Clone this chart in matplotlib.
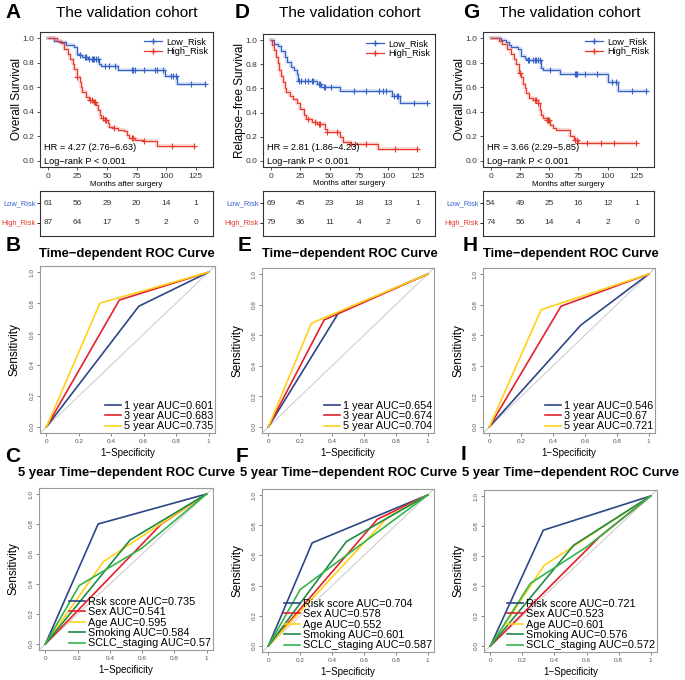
import numpy as np
import matplotlib
matplotlib.use("Agg")
import matplotlib.pyplot as plt
from matplotlib.lines import Line2D

plt.rcParams['font.family'] = ['Liberation Sans', 'DejaVu Sans']
plt.rcParams['axes.unicode_minus'] = True

# ---- Kaplan-Meier data ----
month_ticks = [0, 25, 50, 75, 100, 125]

# A: overall survival
a_low_t = [0, 5, 9, 15, 22, 25, 27, 29, 34, 43, 45, 59, 99, 109]
a_low_s = [1.0, 0.98, 0.965, 0.946, 0.925, 0.87, 0.86, 0.845, 0.83, 0.79, 0.77, 0.737, 0.69, 0.625]
a_low_cens = [27, 31, 32, 35, 37, 38, 39, 41, 42, 48, 52, 57, 71, 72, 74, 81, 91, 92, 97, 104, 106, 108, 121, 133]
a_high_t = [0, 8, 11, 14, 17, 19, 21, 22, 25, 27, 28, 29, 32, 35, 38, 41, 42, 44, 45, 48, 51, 52, 55,
            59, 64, 67, 69, 74, 81, 92]
a_high_s = [1.0, 0.98, 0.957, 0.91, 0.87, 0.83, 0.79, 0.75, 0.684, 0.643, 0.603, 0.563, 0.523, 0.496,
            0.483, 0.456, 0.416, 0.375, 0.349, 0.335, 0.308, 0.28, 0.268, 0.255, 0.241, 0.214, 0.188,
            0.174, 0.16, 0.12]
a_high_cens = [25, 36, 37, 39, 40, 47, 48, 49, 56, 71, 72, 81, 105, 124]

# D: relapse-free survival
d_low_t = [0, 3, 6, 9, 12, 14, 17, 20, 22, 23, 39, 43, 59, 103, 110]
d_low_s = [1.0, 0.97, 0.95, 0.91, 0.86, 0.82, 0.78, 0.75, 0.72, 0.665, 0.64, 0.61, 0.58, 0.54, 0.48]
d_low_cens = [24, 26, 29, 32, 35, 36, 41, 42, 45, 46, 51, 71, 81, 92, 95, 98, 105, 107, 108, 122, 133]
d_high_t = [0, 1, 3, 4, 6, 7, 9, 10, 12, 13, 16, 19, 22, 25, 28, 30, 35, 39, 46, 48, 59, 61, 67, 91]
d_high_s = [1.0, 0.96, 0.92, 0.86, 0.81, 0.75, 0.70, 0.65, 0.60, 0.57, 0.54, 0.51, 0.48, 0.43, 0.38,
            0.35, 0.32, 0.305, 0.265, 0.24, 0.20, 0.16, 0.14, 0.10]
d_high_cens = [32, 38, 41, 42, 48, 56, 68, 72, 81, 106, 124]

# G: overall survival
g_low_t = [0, 9, 13, 16, 17, 23, 26, 29, 30, 32, 43, 45, 59, 100, 109]
g_low_s = [1.0, 0.984, 0.965, 0.945, 0.93, 0.91, 0.857, 0.84, 0.83, 0.818, 0.76, 0.737, 0.705, 0.644, 0.566]
g_low_cens = [32, 33, 36, 38, 39, 40, 42, 51, 72, 73, 74, 81, 91, 104, 107, 121, 133]
g_high_t = [0, 7, 10, 14, 17, 20, 22, 24, 26, 27.5, 29, 30, 33, 36, 40, 42, 43, 45, 48, 51, 53, 56,
            68, 71, 75]
g_high_s = [1.0, 0.98, 0.95, 0.91, 0.87, 0.83, 0.79, 0.72, 0.68, 0.63, 0.59, 0.55, 0.51, 0.496, 0.47,
            0.416, 0.375, 0.35, 0.335, 0.295, 0.268, 0.255, 0.20, 0.174, 0.145]
g_high_cens = [25, 38, 39, 40, 48, 49, 50, 72, 74, 82, 94, 105, 124]

# numbers at risk
risk_a_low = [61, 56, 29, 20, 14, 1]
risk_a_high = [87, 64, 17, 5, 2, 0]
risk_d_low = [69, 45, 23, 18, 13, 1]
risk_d_high = [79, 36, 11, 4, 2, 0]
risk_g_low = [54, 49, 25, 16, 12, 1]
risk_g_high = [74, 56, 14, 4, 2, 0]

hr_a = "HR = 4.27 (2.76\u22126.63)"
hr_d = "HR = 2.81 (1.86\u22124.23)"
hr_g = "HR = 3.66 (2.29\u22125.85)"

# ---- ROC data: (fpr, tpr) points ----
roc_b_1y = [(0, 0), (0.57, 0.78), (1, 1)]
roc_b_3y = [(0, 0), (0.45, 0.82), (1, 1)]
roc_b_5y = [(0, 0), (0.33, 0.80), (1, 1)]
roc_e_1y = [(0, 0), (0.444, 0.752), (1, 1)]
roc_e_3y = [(0, 0), (0.35, 0.70), (1, 1)]
roc_e_5y = [(0, 0), (0.27, 0.678), (1, 1)]
roc_h_1y = [(0, 0), (0.575, 0.667), (1, 1)]
roc_h_3y = [(0, 0), (0.45, 0.79), (1, 1)]
roc_h_5y = [(0, 0), (0.325, 0.767), (1, 1)]
auc_b = ["0.601", "0.683", "0.735"]
auc_e = ["0.654", "0.674", "0.704"]
auc_h = ["0.546", "0.67", "0.721"]

roc_c = {"Rsk score": [(0, 0), (0.327, 0.80), (1, 1)],
         "Sex": [(0, 0), (0.72, 0.80), (1, 1)],
         "Age": [(0, 0), (0.36, 0.55), (1, 1)],
         "Smoking": [(0, 0), (0.525, 0.693), (1, 1)],
         "SCLC_staging": [(0, 0), (0.21, 0.39), (0.6, 0.64), (1, 1)]}
auc_c = ["0.735", "0.541", "0.595", "0.584", "0.57"]
roc_f = {"Risk score": [(0, 0), (0.275, 0.683), (1, 1)],
         "Sex": [(0, 0), (0.685, 0.84), (1, 1)],
         "Age": [(0, 0), (0.75, 0.854), (1, 1)],
         "Smoking": [(0, 0), (0.49, 0.692), (1, 1)],
         "SCLC_staging": [(0, 0), (0.2, 0.374), (1, 1)]}
auc_f = ["0.704", "0.578", "0.552", "0.601", "0.587"]
roc_i = {"Risk score": [(0, 0), (0.33, 0.772), (1, 1)],
         "Sex": [(0, 0), (0.68, 0.726), (1, 1)],
         "Age": [(0, 0), (0.335, 0.537), (1, 1)],
         "Smoking": [(0, 0), (0.52, 0.672), (1, 1)],
         "SCLC_staging": [(0, 0), (0.25, 0.418), (0.6, 0.66), (1, 1)]}
auc_i = ["0.721", "0.523", "0.601", "0.576", "0.572"]

BLUE = "#3461C8"
RED = "#E8392C"
ROC3 = ["#2D4688", "#E3222B", "#FFD21A"]
ROC5 = ["#2D4688", "#E3222B", "#FFD21A", "#1F8A45", "#33B54A"]

W, H = 685, 680
fig = plt.figure(figsize=(W / 100, H / 100), dpi=100)


def box(l, r, t, b):
    return [l / W, 1 - b / H, (r - l) / W, (b - t) / H]


def level_at(x, times, levels):
    idx = np.searchsorted(times, x, side="right") - 1
    return np.asarray(levels)[idx]


def km_curve(ax, t, s, cens, color):
    t_end = max(t[-1], max(cens))
    tt = list(t) + [t_end]
    ss = list(s) + [s[-1]]
    ax.step(tt, ss, where="post", color=color, lw=2.6, alpha=0.22)
    ax.step(tt, ss, where="post", color=color, lw=0.8)
    ax.plot(cens, level_at(cens, t, s), ls="none", marker="+", ms=4, mew=0.8, color=color)


def km_panel(rect, low, high, hr, ylabel):
    ax = fig.add_axes(box(*rect))
    km_curve(ax, *low, BLUE)
    km_curve(ax, *high, RED)
    ax.set_xlim(-6.65, 139.65)
    ax.set_ylim(-0.05, 1.05)
    ax.set_xticks(month_ticks)
    ax.set_yticks([0, 0.2, 0.4, 0.6, 0.8, 1.0])
    ax.set_yticklabels(["0.0", "0.2", "0.4", "0.6", "0.8", "1.0"])
    ax.tick_params(labelsize=6, length=2.5, width=0.6, pad=1.5, colors="#333333")
    for sp in ax.spines.values():
        sp.set_linewidth(0.8)
        sp.set_color("#333333")
    ax.set_ylabel(ylabel, fontsize=8.5)
    ax.yaxis.set_label_coords(-0.10, 0.5)
    ax.set_xlabel("Months after surgery", fontsize=5.7)
    ax.xaxis.set_label_coords(0.5, -0.10)
    ax.text(0.022, 0.148, hr, transform=ax.transAxes, fontsize=6.7, va="center")
    ax.text(0.022, 0.044, "Log\u2212rank P < 0.001", transform=ax.transAxes, fontsize=6.7, va="center")
    handles = [Line2D([], [], color=BLUE, marker="+", ms=5, lw=0.9),
               Line2D([], [], color=RED, marker="+", ms=5, lw=0.9)]
    ax.legend(handles, ["Low_Risk", "High_Risk"], loc="upper right", frameon=False, fontsize=6.6,
              handlelength=2.0, labelspacing=0.1, borderaxespad=0.15, handletextpad=0.4)
    return ax


def risk_table(rect, low, high):
    ax = fig.add_axes(box(*rect))
    ax.set_xlim(-6.65, 139.65)
    ax.set_ylim(0, 1)
    for x, n in zip(month_ticks, low):
        ax.text(x, 0.73, str(n), fontsize=6, ha="center", va="center", color="#333333")
    for x, n in zip(month_ticks, high):
        ax.text(x, 0.29, str(n), fontsize=6, ha="center", va="center", color="#333333")
    ax.set_xticks([])
    ax.set_yticks([0.73, 0.29])
    ax.set_yticklabels(["Low_Risk", "High_Risk"], fontsize=5.4)
    ax.get_yticklabels()[0].set_color(BLUE)
    ax.get_yticklabels()[1].set_color(RED)
    ax.tick_params(axis="y", length=2.0, width=0.6, pad=1.0)
    for sp in ax.spines.values():
        sp.set_linewidth(0.8)
        sp.set_color("#333333")


def roc_panel(rect, curves, labels, colors):
    ax = fig.add_axes(box(*rect))
    ax.axline((0, 0), (1, 1), color="#CFCFCF", lw=0.8)
    for pts, lab, col in zip(curves, labels, colors):
        xs, ys = zip(*pts)
        ax.plot(xs, ys, color=col, lw=1.2, label=lab)
    ax.set_xlim(-0.04, 1.04)
    ax.set_ylim(-0.04, 1.04)
    ticks = [0, 0.2, 0.4, 0.6, 0.8, 1.0]
    ax.set_xticks(ticks)
    ax.set_xticklabels(["0", "0.2", "0.4", "0.6", "0.8", "1"])
    ax.set_yticks(ticks)
    ax.set_yticklabels(["0.0", "0.2", "0.4", "0.6", "0.8", "1.0"], rotation=90, va="center")
    ax.tick_params(labelsize=4.6, length=2.5, width=0.5, pad=1.5, colors="#555555")
    for sp in ax.spines.values():
        sp.set_linewidth(0.8)
        sp.set_color("#9A9A9A")
    ax.set_xlabel("1\u2212Specificity", fontsize=7)
    ax.xaxis.set_label_coords(0.5, -0.09)
    ax.set_ylabel("Sensitivity", fontsize=8.5)
    ax.yaxis.set_label_coords(-0.11, 0.5)
    ax.legend(loc="lower right", frameon=False, fontsize=7.8, handlelength=1.5,
              labelspacing=0.04, borderaxespad=0.05, handletextpad=0.3, borderpad=0.1)
    return ax


# ---- top row: KM curves and risk tables ----
km_panel((40, 213, 32, 167), (a_low_t, a_low_s, a_low_cens), (a_high_t, a_high_s, a_high_cens),
         hr_a, "Overall Survival")
km_panel((263, 435, 34, 167), (d_low_t, d_low_s, d_low_cens), (d_high_t, d_high_s, d_high_cens),
         hr_d, "Relapse\u2212free Survival")
km_panel((483, 654, 32, 167), (g_low_t, g_low_s, g_low_cens), (g_high_t, g_high_s, g_high_cens),
         hr_g, "Overall Survival")
risk_table((40, 213, 191, 236), risk_a_low, risk_a_high)
risk_table((263, 435, 191, 236), risk_d_low, risk_d_high)
risk_table((483, 654, 191, 236), risk_g_low, risk_g_high)

# ---- middle row: time-dependent ROC ----
years = ["1 year", "3 year", "5 year"]
roc_panel((40, 215, 266, 433), [roc_b_1y, roc_b_3y, roc_b_5y],
          [f"{y} AUC={a}" for y, a in zip(years, auc_b)], ROC3)
roc_panel((262, 434, 268, 433), [roc_e_1y, roc_e_3y, roc_e_5y],
          [f"{y} AUC={a}" for y, a in zip(years, auc_e)], ROC3)
roc_panel((483, 655, 268, 433), [roc_h_1y, roc_h_3y, roc_h_5y],
          [f"{y} AUC={a}" for y, a in zip(years, auc_h)], ROC3)

# ---- bottom row: 5 year ROC by factor ----
for rect, curves, aucs in [((39, 213, 488, 650), roc_c, auc_c),
                           ((262, 434, 489, 652), roc_f, auc_f),
                           ((484, 657, 490, 652), roc_i, auc_i)]:
    roc_panel(rect, list(curves.values()),
              [f"{k} AUC={a}" for k, a in zip(curves.keys(), aucs)], ROC5)

# ---- titles and panel letters ----
for xc in [127, 350, 570]:
    fig.text(xc / W, 1 - 13 / H, "The validation cohort", fontsize=11, ha="center", va="center")
for xc in [127, 350, 571]:
    fig.text(xc / W, 1 - 254 / H, "Time\u2212dependent ROC Curve", fontsize=9.4,
             fontweight="bold", ha="center", va="center")
for xc in [127, 349, 571]:
    fig.text(xc / W, 1 - 473 / H, "5 year Time\u2212dependent ROC Curve", fontsize=9.4,
             fontweight="bold", ha="center", va="center")

letters = [("A", 13, 13), ("D", 242, 13), ("G", 471, 13),
           ("B", 13, 245), ("E", 245, 245), ("H", 470, 245),
           ("C", 13, 457), ("F", 242, 456), ("I", 463, 455)]
for lab, x, y in letters:
    fig.text(x / W, 1 - y / H, lab, fontsize=15, fontweight="bold", ha="center", va="center")

fig.savefig("out.png", dpi=100)
